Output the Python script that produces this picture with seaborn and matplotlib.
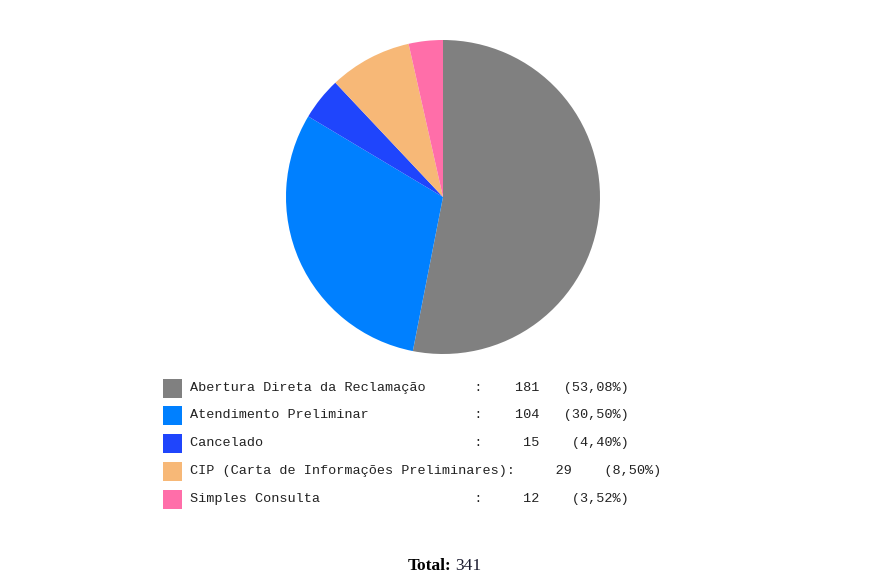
import matplotlib
matplotlib.use("Agg")
import matplotlib.pyplot as plt
from matplotlib.patches import Rectangle
import seaborn as sns

# data
categories = [
    "Abertura Direta da Reclamação",
    "Atendimento Preliminar",
    "Cancelado",
    "CIP (Carta de Informações Preliminares)",
    "Simples Consulta",
]
counts = [181, 104, 15, 29, 12]
percent_labels = ["53,08%", "30,50%", "4,40%", "8,50%", "3,52%"]
total = 341
colors = ["#808080", "#0080FF", "#1F45FC", "#F7B877", "#FF6EA9"]

sns.set_style("white")

W, H = 892, 588
fig = plt.figure(figsize=(W / 100, H / 100), dpi=100)
fig.patch.set_facecolor("white")

# pie, centre ~(443, 197) px, radius ~157 px
cx, cy, r = 443, 197, 157
ax = fig.add_axes([(cx - r) / W, 1 - (cy + r) / H, 2 * r / W, 2 * r / H])
ax.pie(counts, colors=colors, startangle=90, counterclock=False,
       wedgeprops={"linewidth": 0})
ax.set_aspect("equal")
ax.set_xlim(-1, 1)
ax.set_ylim(-1, 1)
ax.axis("off")

# legend rows in monospace
row_y = [388, 415, 443, 471, 499]
for i, (lab, n, p, c) in enumerate(zip(categories, counts, percent_labels, colors)):
    y = row_y[i]
    fig.patches.append(Rectangle((163 / W, 1 - (y + 9.5) / H), 19 / W, 19 / H,
                                 transform=fig.transFigure, facecolor=c,
                                 edgecolor="none"))
    line = f"{lab:<35}:    {n:>3}   {'(' + p + ')':>8}"
    fig.text(190 / W, 1 - y / H, line, family="Liberation Mono", fontsize=9.7,
             color="#222222", va="center", ha="left")

# total
fig.text(451 / W, 1 - 566 / H, "Total:", family="Liberation Serif",
         fontweight="bold", fontsize=12.5, color="black", ha="right", va="center")
fig.text(455 / W, 1 - 566 / H, str(total), family="Liberation Serif",
         fontsize=12.5, color="#1a1a2e", ha="left", va="center")

fig.savefig("out.png", dpi=100, facecolor="white")
